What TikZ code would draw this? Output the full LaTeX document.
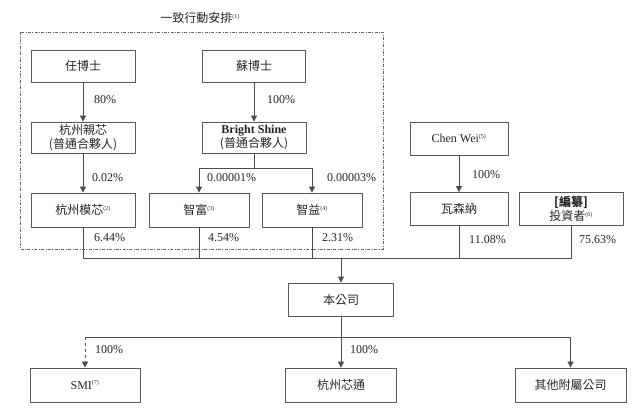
\documentclass[tikz,border=0pt]{standalone}
\usepackage{fontspec}
\setmainfont{Liberation Serif}
\newfontfamily\cjk{Noto Sans CJK TC}
\usetikzlibrary{arrows.meta}
\newcommand{\fnm}[1]{\textsuperscript{\rmfamily\fontsize{6}{6}\selectfont(#1)}}
\begin{document}
\begin{tikzpicture}[x=1pt,y=-1pt,
  box/.style={draw=black!65, line width=0.8pt, rectangle, minimum width=104pt, minimum height=32pt, inner sep=1pt, align=center, font=\fontsize{12}{14}\selectfont\cjk, text=black!85},
  arr/.style={draw=black!70, line width=0.8pt, -{Triangle[width=6pt,length=6pt]}},
  ln/.style={draw=black!70, line width=0.8pt},
  pct/.style={anchor=west, inner sep=0pt, font=\fontsize{12}{14}\selectfont, text=black!85}]
\useasboundingbox (0,0) rectangle (640,410);
\fill[white] (0,0) rectangle (640,410);
% grouping box
\draw[draw=black!60, line width=0.7pt, dash pattern=on 3pt off 1.5pt on 0.8pt off 1.5pt] (20,32) rectangle (383,249);
\node[font=\fontsize{12}{14}\selectfont\cjk, text=black!85] (title) at (200,18) {一致行動安排\fnm{1}};
% nodes
\node[box] (ren) at (83,66) {任博士};
\node[box, minimum width=103pt] (su) at (254,66) {蘇博士};
\node[box, minimum height=31pt] (hzqx) at (83,137.5) {杭州親芯\\(普通合夥人)};
\node[box, minimum height=31pt] (bs) at (254,137.5) {{\rmfamily\bfseries Bright Shine}\\(普通合夥人)};
\node[box, minimum height=34pt] (hzmx) at (83,210) {杭州模芯\fnm{2}};
\node[box, minimum width=100pt, minimum height=34pt] (zf) at (199,210) {智富\fnm{3}};
\node[box, minimum width=100pt, minimum height=34pt] (zy) at (312,210) {智益\fnm{4}};
\node[box, minimum width=98pt, minimum height=33pt] (chen) at (459,138.5) {{\rmfamily Chen Wei}\fnm{5}};
\node[box, minimum width=98pt, minimum height=33pt] (wsn) at (459,209) {瓦森納};
\node[box, minimum width=104pt, minimum height=33pt] (inv) at (571,209) {{\bfseries[編纂]}\\投資者\fnm{6}};
\node[box, minimum width=105pt, minimum height=33pt] (bgs) at (341,299.5) {本公司};
\node[box, minimum width=110pt, minimum height=34pt] (smi) at (85,385) {{\rmfamily SMI}\fnm{7}};
\node[box, minimum width=111pt, minimum height=34pt] (hzxt) at (341,385) {杭州芯通};
\node[box, minimum width=111pt, minimum height=34pt] (other) at (570.5,385) {其他附屬公司};
% connectors top
\draw[arr] (ren) -- (hzqx);
\draw[arr] (su) -- (bs);
\draw[arr] (hzqx) -- (hzmx);
\coordinate (bsj) at (254,168);
\draw[ln] (bs.south) -- (bsj);
\draw[arr] (bsj) -| (zf.north);
\draw[arr] (bsj) -| (zy.north);
\draw[arr] (chen) -- (wsn);
% bus to company
\coordinate (bus) at (341,258);
\draw[ln] (hzmx.south) |- (bus);
\draw[ln] (zf.south) |- (bus);
\draw[ln] (zy.south) |- (bus);
\draw[ln] (wsn.south) |- (bus);
\draw[ln] (inv.south) |- (bus);
\draw[arr] (bus) -- (bgs.north);
% bus to subsidiaries
\coordinate (bus2) at (341,337);
\coordinate (smij) at (smi.north |- bus2);
\draw[ln] (bgs.south) -- (bus2);
\draw[ln] (bus2) -- (smij);
\draw[arr, dashed] (smij) -- (smi.north);
\draw[arr] (bus2) -- (hzxt.north);
\draw[arr] (bus2) -| (other.north);
% labels
\node[pct] (l1) at (94,100) {80\%};
\node[pct] (l2) at (267,100) {100\%};
\node[pct] (l3) at (92,178) {0.02\%};
\node[pct] (l4) at (207,178) {0.00001\%};
\node[pct] (l5) at (327,178) {0.00003\%};
\node[pct] (l6) at (472,175) {100\%};
\node[pct] (l7) at (94,238) {6.44\%};
\node[pct] (l8) at (208,238) {4.54\%};
\node[pct] (l9) at (322,238) {2.31\%};
\node[pct] (l10) at (469,240) {11.08\%};
\node[pct] (l11) at (579,240) {75.63\%};
\node[pct] (l12) at (95,350) {100\%};
\node[pct] (l13) at (350,350) {100\%};
\end{tikzpicture}
\end{document}
